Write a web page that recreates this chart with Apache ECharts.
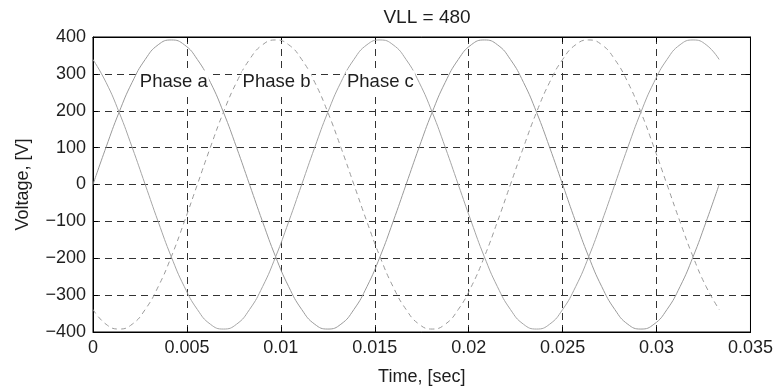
<!DOCTYPE html>
<html><head><meta charset="utf-8">
<script src="https://cdn.jsdelivr.net/npm/echarts@6/dist/echarts.min.js"></script>
<style>html,body{margin:0;padding:0;background:#fff}#c{width:776px;height:391px}</style>
</head><body><div id="c"></div>
<script>
var time = [0,0.000694,0.001389,0.002083,0.002778,0.003472,0.004167,0.004861,0.005556,0.00625,0.006944,0.007639,0.008333,0.009028,0.009722,0.010417,0.011111,0.011806,0.0125,0.013194,0.013889,0.014583,0.015278,0.015972,0.016667,0.017361,0.018056,0.01875,0.019444,0.020139,0.020833,0.021528,0.022222,0.022917,0.023611,0.024306,0.025,0.025694,0.026389,0.027083,0.027778,0.028472,0.029167,0.029861,0.030556,0.03125,0.031944,0.032639,0.033333];
var phaseA = [0,101,196,277,339,379,392,379,339,277,196,101,0,-101,-196,-277,-339,-379,-392,-379,-339,-277,-196,-101,0,101,196,277,339,379,392,379,339,277,196,101,0,-101,-196,-277,-339,-379,-392,-379,-339,-277,-196,-101,0];
var phaseB = [-339,-379,-392,-379,-339,-277,-196,-101,0,101,196,277,339,379,392,379,339,277,196,101,0,-101,-196,-277,-339,-379,-392,-379,-339,-277,-196,-101,0,101,196,277,339,379,392,379,339,277,196,101,0,-101,-196,-277,-339];
var phaseC = [339,277,196,101,0,-101,-196,-277,-339,-379,-392,-379,-339,-277,-196,-101,0,101,196,277,339,379,392,379,339,277,196,101,0,-101,-196,-277,-339,-379,-392,-379,-339,-277,-196,-101,0,101,196,277,339,379,392,379,339];
var labelNames = ['Phase a','Phase b','Phase c'];
var labelTimes = [0.0043,0.00977,0.0153];
var labelVolts = [278,278,278];

function pairs(v){ return time.map(function(t,i){return [t,v[i]];}); }
var txt = '#1e1e1e';
var font = 'Liberation Sans, Arial, Helvetica, sans-serif';
var chart = echarts.init(document.getElementById('c'), null, {renderer:'canvas'});
function mp(i){
  return {symbol:'rect', symbolSize:0, silent:true,
    data:[{coord:[labelTimes[i],labelVolts[i]], value:labelNames[i]}],
    label:{show:true, position:'inside', formatter:labelNames[i], color:txt, fontSize:18.5, fontFamily:font,
      backgroundColor:'#fff', padding:[2,1,2,1]}};
}
var grid = {left:93,right:24,top:37,bottom:58,show:true,borderColor:'#000',borderWidth:1,containLabel:false};
var minus = function(v){ return String(v).replace('-','\u2212'); };
var gridLine = {show:true,lineStyle:{color:'#333',type:[7,5],width:1}};
chart.setOption({
  animation:false,
  title:{text:'VLL = 480', left:422, top:3, textAlign:'center', textStyle:{fontSize:19,fontWeight:'normal',color:txt,fontFamily:font}},
  grid:grid,
  xAxis:[{type:'value',min:0,max:0.035,interval:0.005,name:'Time, [sec]',nameLocation:'middle',nameGap:36,
    nameTextStyle:{fontSize:18,color:txt,fontFamily:font},
    axisLine:{show:true,onZero:false,lineStyle:{color:'#000'}},axisTick:{show:true,inside:true,length:5,lineStyle:{color:'#000'}},
    axisLabel:{fontSize:18,color:txt,fontFamily:font,margin:7},
    splitLine:gridLine},
    {type:'value',position:'top',min:0,max:0.035,interval:0.005,axisLine:{show:true,onZero:false,lineStyle:{color:'#000'}},
    axisTick:{show:true,inside:true,length:5,lineStyle:{color:'#000'}},axisLabel:{show:false},splitLine:{show:false}}],
  yAxis:[{type:'value',min:-400,max:400,interval:100,name:'Voltage, [V]',nameLocation:'middle',nameGap:61,
    nameTextStyle:{fontSize:18,color:txt,fontFamily:font},
    axisLine:{show:true,onZero:false,lineStyle:{color:'#000'}},axisTick:{show:true,inside:true,length:5,lineStyle:{color:'#000'}},
    axisLabel:{fontSize:18,color:txt,fontFamily:font,margin:7,formatter:minus},
    splitLine:gridLine},
    {type:'value',position:'right',min:-400,max:400,interval:100,axisLine:{show:true,onZero:false,lineStyle:{color:'#000'}},
    axisTick:{show:true,inside:true,length:5,lineStyle:{color:'#000'}},axisLabel:{show:false},splitLine:{show:false}}],
  series:[
    {type:'line',name:'Phase a',data:pairs(phaseA),showSymbol:false,smooth:0.5,z:1,lineStyle:{color:'#9a9a9a',width:1},markPoint:mp(0)},
    {type:'line',name:'Phase b',data:pairs(phaseB),showSymbol:false,smooth:0.5,z:1,lineStyle:{color:'#9a9a9a',width:1,type:[5,4]},markPoint:mp(1)},
    {type:'line',name:'Phase c',data:pairs(phaseC),showSymbol:false,smooth:0.5,z:1,lineStyle:{color:'#a5a5a5',width:1},markPoint:mp(2)}
  ]
});
</script></body></html>
